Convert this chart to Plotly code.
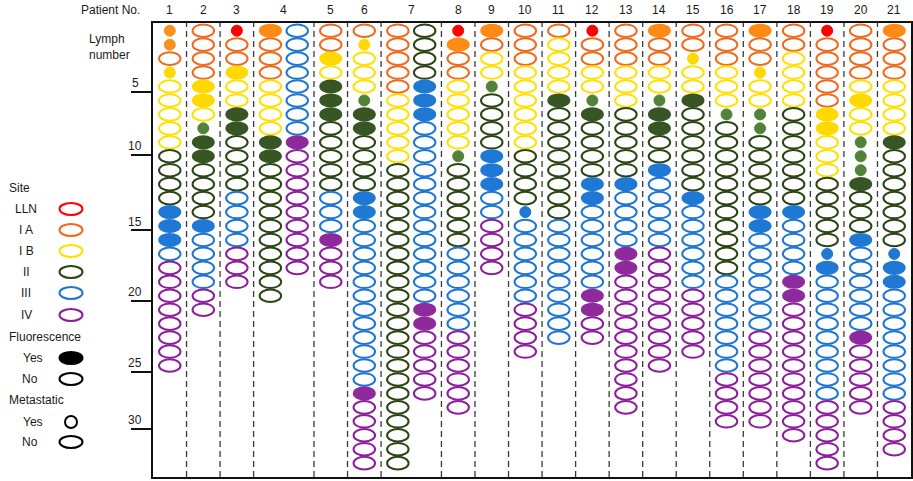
import plotly.graph_objects as go

# ---------------- data ----------------
patient_labels = [str(i) for i in range(1, 22)]
site_names = ["LLN", "IA", "IB", "II", "III", "IV"]
site_legend_text = ["LLN", "I A", "I B", "II", "III", "IV"]
tick_labels = ["5", "10", "15", "20", "25", "30"]

# runs of lymph nodes, top to bottom: (site, state, count)
# state: "o" = no fluorescence, "f" = fluorescence, "m" = fluorescence + metastatic
patient_01 = [("IA", "m", 2), ("IA", "o", 1), ("IB", "m", 1), ("IB", "o", 5), ("II", "o", 4),
              ("III", "f", 3), ("III", "o", 1), ("IV", "o", 8)]
patient_02 = [("IA", "o", 4), ("IB", "f", 2), ("IB", "o", 1), ("II", "m", 1), ("II", "f", 2),
              ("II", "o", 4), ("III", "f", 1), ("III", "o", 4), ("IV", "o", 2)]
patient_03 = [("LLN", "m", 1), ("IA", "o", 2), ("IB", "f", 1), ("IB", "o", 2), ("II", "f", 2),
              ("II", "o", 4), ("III", "o", 4), ("IV", "o", 3)]
patient_04a = [("IA", "f", 1), ("IA", "o", 3), ("IB", "o", 4), ("II", "f", 2), ("II", "o", 10)]
patient_04b = [("III", "o", 8), ("IV", "f", 1), ("IV", "o", 9)]
patient_05 = [("IA", "o", 2), ("IB", "f", 1), ("IB", "o", 1), ("II", "f", 3), ("II", "o", 5),
              ("III", "o", 3), ("IV", "f", 1), ("IV", "o", 3)]
patient_06 = [("IA", "o", 1), ("IB", "m", 1), ("IB", "o", 3), ("II", "m", 1), ("II", "f", 2),
              ("II", "o", 4), ("III", "f", 2), ("III", "o", 12), ("IV", "f", 1), ("IV", "o", 5)]
patient_07a = [("IA", "o", 5), ("IB", "o", 5), ("II", "o", 22)]
patient_07b = [("II", "o", 4), ("III", "f", 3), ("III", "o", 13), ("IV", "f", 2), ("IV", "o", 5)]
patient_08 = [("LLN", "m", 1), ("IA", "f", 1), ("IA", "o", 2), ("IB", "o", 5), ("II", "m", 1),
              ("II", "o", 6), ("III", "o", 6), ("IV", "o", 6)]
patient_09 = [("IA", "f", 1), ("IA", "o", 1), ("IB", "o", 2), ("II", "m", 1), ("II", "o", 4),
              ("III", "f", 3), ("III", "o", 2), ("IV", "o", 4)]
patient_10 = [("IA", "o", 3), ("IB", "o", 6), ("II", "o", 4), ("III", "m", 1), ("III", "o", 6),
              ("IV", "o", 4)]
patient_11 = [("IA", "o", 1), ("IB", "o", 4), ("II", "f", 1), ("II", "o", 8), ("III", "o", 9)]
patient_12 = [("LLN", "m", 1), ("IA", "o", 2), ("IB", "o", 2), ("II", "m", 1), ("II", "f", 1),
              ("II", "o", 4), ("III", "f", 2), ("III", "o", 6), ("IV", "f", 2), ("IV", "o", 2)]
patient_13 = [("IA", "o", 3), ("IB", "o", 3), ("II", "o", 5), ("III", "f", 1), ("III", "o", 4),
              ("IV", "f", 2), ("IV", "o", 10)]
patient_14 = [("IA", "f", 1), ("IA", "o", 2), ("IB", "o", 2), ("II", "m", 1), ("II", "f", 2),
              ("II", "o", 2), ("III", "f", 1), ("III", "o", 5), ("IV", "o", 9)]
patient_15 = [("IA", "o", 2), ("IB", "m", 1), ("IB", "o", 2), ("II", "f", 1), ("II", "o", 6),
              ("III", "f", 1), ("III", "o", 6), ("IV", "o", 5)]
patient_16 = [("IA", "o", 3), ("IB", "o", 3), ("II", "m", 1), ("II", "o", 11), ("III", "o", 7),
              ("IV", "o", 4)]
patient_17 = [("IA", "f", 1), ("IA", "o", 2), ("IB", "m", 1), ("IB", "o", 2), ("II", "m", 2),
              ("II", "o", 5), ("III", "f", 2), ("III", "o", 7), ("IV", "o", 7)]
patient_18 = [("IA", "o", 2), ("IB", "o", 4), ("II", "o", 7), ("III", "f", 1), ("III", "o", 4),
              ("IV", "f", 2), ("IV", "o", 10)]
patient_19 = [("LLN", "m", 1), ("IA", "o", 5), ("IB", "f", 2), ("IB", "o", 3), ("II", "o", 5),
              ("III", "m", 1), ("III", "f", 1), ("III", "o", 9), ("IV", "o", 5)]
patient_20 = [("IA", "o", 4), ("IB", "o", 1), ("IB", "f", 1), ("IB", "o", 2), ("II", "m", 3),
              ("II", "f", 1), ("II", "o", 3), ("III", "f", 1), ("III", "o", 6), ("IV", "f", 1),
              ("IV", "o", 5)]
patient_21 = [("IA", "f", 1), ("IA", "o", 3), ("IB", "o", 4), ("II", "f", 1), ("II", "o", 7),
              ("III", "m", 1), ("III", "f", 2), ("III", "o", 8), ("IV", "o", 4)]

patients = [[patient_01], [patient_02], [patient_03], [patient_04a, patient_04b], [patient_05],
            [patient_06], [patient_07a, patient_07b], [patient_08], [patient_09], [patient_10],
            [patient_11], [patient_12], [patient_13], [patient_14], [patient_15], [patient_16],
            [patient_17], [patient_18], [patient_19], [patient_20], [patient_21]]

# ---------------- styles ----------------
line_color = {"LLN": "#FF0000", "IA": "#F06A1E", "IB": "#FFE000", "II": "#2A4513",
              "III": "#1E76D2", "IV": "#8C1D9C"}
fill_color = {"LLN": "#FF0000", "IA": "#FF8A14", "IB": "#FFD900", "II": "#385624",
              "III": "#1F78D4", "IV": "#8E2B9C"}
met_color = {"LLN": "#FF0000", "IA": "#F7921E", "IB": "#FFD900", "II": "#52813A",
             "III": "#1F78D4", "IV": "#8E2B9C"}

FONT = "Arial, Liberation Sans, sans-serif"
TXT = "#1a1a1a"
W, H = 913, 481
ML, MR, MT, MB = 153, 2, 23, 4
PW, PH = W - ML - MR, H - MT - MB
NODE_PX = 13.95
Y_TOP = 1 - (30.7 - MT) / NODE_PX
Y_BOT = Y_TOP + PH / NODE_PX
DOUBLE_W = 1.8
SUB_OFF = 0.4

col_w = [1 if len(p) == 1 else DOUBLE_W for p in patients]
X_TOTAL = sum(col_w)
UX = PW / X_TOTAL  # px per x unit

def px_x(px):
    return (px - ML) / PW

def px_y(py):
    return (H - MB - py) / PH

tick_y = [5.37, 9.91, 15.29, 20.35, 25.44, 29.55]

shapes = []
annotations = []
met_x = {s: [] for s in site_names}
met_y = {s: [] for s in site_names}

EW, EH = 21.5 / UX / 2, 12.6 / NODE_PX / 2   # ellipse half sizes in data units

left = 0
col_centers = []
for pi, cols in enumerate(patients):
    w = col_w[pi]
    c = left + w / 2
    col_centers.append(c)
    subs = [c] if len(cols) == 1 else [c - SUB_OFF, c + SUB_OFF]
    for xc, runs in zip(subs, cols):
        n = 0
        for site, state, count in runs:
            for _ in range(count):
                n += 1
                if state == "m":
                    met_x[site].append(xc)
                    met_y[site].append(n)
                    continue
                filled = state == "f"
                shapes.append(dict(
                    type="circle", xref="x", yref="y",
                    x0=xc - EW, x1=xc + EW, y0=n - EH, y1=n + EH,
                    line=dict(color=fill_color[site] if filled else line_color[site],
                              width=1.5 if filled else 2),
                    fillcolor=fill_color[site] if filled else "rgba(0,0,0,0)",
                    layer="above"))
    if pi > 0:
        shapes.append(dict(type="line", xref="x", yref="paper", x0=left, x1=left,
                           y0=0, y1=1, layer="below",
                           line=dict(color="#3a3a3a", width=1.3, dash="6px,4px")))
    left += w

fig = go.Figure()
for s in site_names:
    if met_x[s]:
        fig.add_trace(go.Scatter(
            x=met_x[s], y=met_y[s], mode="markers", showlegend=False, hoverinfo="skip",
            marker=dict(symbol="circle", size=11, color=met_color[s],
                        line=dict(color=met_color[s], width=1))))

# patient numbers
annotations.append(dict(text="Patient No.", xref="paper", yref="paper", x=px_x(142),
                        y=px_y(10), xanchor="right", yanchor="middle", showarrow=False))
for lab, c in zip(patient_labels, col_centers):
    annotations.append(dict(text=lab, xref="x", yref="paper", x=c, y=px_y(10),
                            xanchor="center", yanchor="middle", showarrow=False))

annotations.append(dict(text="Lymph<br>number", xref="paper", yref="paper", x=px_x(87),
                        y=px_y(47), xanchor="left", yanchor="middle", align="left",
                        showarrow=False))

for lab, ty in zip(tick_labels, tick_y):
    annotations.append(dict(text=lab, xref="paper", yref="y", x=px_x(135), y=ty,
                            yshift=8.5, xanchor="center", yanchor="middle", showarrow=False))

# ---------------- legend (drawn) ----------------
def leg_text(t, x, y, anchor="center"):
    annotations.append(dict(text=t, xref="paper", yref="paper", x=px_x(x), y=px_y(y),
                            xanchor=anchor, yanchor="middle", showarrow=False))

def leg_ellipse(y, color, filled=False, small=False):
    hw, hh = (6, 6) if small else (11.5, 6)
    shapes.append(dict(type="circle", xref="paper", yref="paper",
                       x0=px_x(71 - hw), x1=px_x(71 + hw), y0=px_y(y + hh), y1=px_y(y - hh),
                       line=dict(color=color, width=2),
                       fillcolor=color if filled else "rgba(0,0,0,0)"))

leg_text("Site", 7, 188, "left")
site_leg_y = [209, 230, 251, 272, 293, 315]
for s, t, yy in zip(site_names, site_legend_text, site_leg_y):
    leg_text(t, 26, yy)
    leg_ellipse(yy, line_color[s])
leg_text("Fluorescence", 7, 337, "left")
leg_text("Yes", 33, 358)
leg_ellipse(358, "#000000", filled=True)
leg_text("No", 30, 379)
leg_ellipse(379, "#000000")
leg_text("Metastatic", 7, 400, "left")
leg_text("Yes", 33, 422)
leg_ellipse(422, "#000000", small=True)
leg_text("No", 30, 442)
leg_ellipse(442, "#000000")

fig.update_layout(
    width=W, height=H,
    margin=dict(l=ML, r=MR, t=MT, b=MB, autoexpand=False),
    paper_bgcolor="white", plot_bgcolor="white",
    font=dict(family=FONT, size=12, color=TXT),
    showlegend=False,
    shapes=shapes, annotations=annotations,
    xaxis=dict(range=[0, X_TOTAL], showgrid=False, zeroline=False, showticklabels=False,
               ticks="", showline=True, mirror=True, linecolor="#111111", linewidth=2,
               fixedrange=True),
    yaxis=dict(range=[Y_BOT, Y_TOP], showgrid=False, zeroline=False, showticklabels=False,
               tickmode="array", tickvals=tick_y, ticks="outside", ticklen=20, tickwidth=2,
               tickcolor="#111111", showline=True, mirror=True, linecolor="#111111",
               linewidth=2, fixedrange=True),
)

fig.write_html("out.html", config={"displayModeBar": False, "staticPlot": True},
               post_script="document.body.style.margin='0';document.body.style.overflow='hidden';")
